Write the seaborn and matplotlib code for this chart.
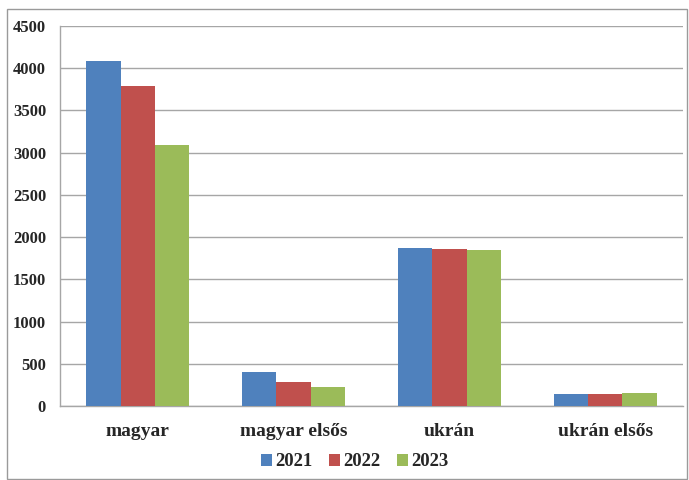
import matplotlib
matplotlib.use("Agg")
import matplotlib.pyplot as plt
import seaborn as sns
import pandas as pd
from matplotlib.patches import Rectangle

categories = ["magyar", "magyar elsős", "ukrán", "ukrán elsős"]
years = ["2021", "2022", "2023"]
v2021 = [4090, 400, 1875, 142]
v2022 = [3790, 285, 1855, 145]
v2023 = [3090, 225, 1848, 155]
colors = ["#4F81BD", "#C0504D", "#9BBB59"]

rows = []
for y, vals in zip(years, [v2021, v2022, v2023]):
    for c, v in zip(categories, vals):
        rows.append({"cat": c, "year": y, "value": v})
df = pd.DataFrame(rows)

sns.set_theme(style="white")
plt.rcParams['font.family'] = ['Liberation Serif', 'DejaVu Serif']
plt.rcParams['font.weight'] = 'bold'

fig = plt.figure(figsize=(6.89, 4.80), dpi=100)
ax = fig.add_axes([60/689, 1-406/480, (683-60)/689, (406-26)/480])

sns.barplot(data=df, x="cat", y="value", hue="year", palette=colors,
            width=0.66, ax=ax, saturation=1, legend=True, zorder=3, linewidth=0)

ax.set_ylim(0, 4500)
ax.set_xlim(-0.5, 3.5)
ax.set_yticks(range(0, 4501, 500))
ax.yaxis.grid(True, color="#a6a6a6", linewidth=1.0, zorder=0)
ax.set_axisbelow(True)
ax.set_xlabel("")
ax.set_ylabel("")
for s in ["top", "right"]:
    ax.spines[s].set_visible(False)
for s in ["left", "bottom"]:
    ax.spines[s].set_color("#a6a6a6")
    ax.spines[s].set_linewidth(1.0)
ax.tick_params(axis="y", which="major", length=4, color="#a6a6a6", labelsize=12, pad=6)
ax.tick_params(axis="x", which="major", length=0, labelsize=14, pad=12)
ax.set_xticks([-0.5, 0.5, 1.5, 2.5, 3.5], minor=True)
ax.tick_params(axis="x", which="minor", length=5, color="#a6a6a6", direction="out")
for lab in ax.get_xticklabels() + ax.get_yticklabels():
    lab.set_fontweight("bold")

handles, labels = ax.get_legend_handles_labels()
ax.legend_.remove()
leg = fig.legend(handles, labels, loc="center", bbox_to_anchor=(355/689, 1-462/480), ncol=3,
                 frameon=False, prop={"weight": "bold", "size": 13.5},
                 handlelength=0.55, handleheight=0.6, handletextpad=0.2, columnspacing=0.9)

fig.patches.append(Rectangle((7/689, 1/480), (687-7)/689, (471-1)/480, transform=fig.transFigure,
                             fill=False, edgecolor="#9a9a9a", linewidth=1.0))

fig.savefig("out.png", dpi=100)
